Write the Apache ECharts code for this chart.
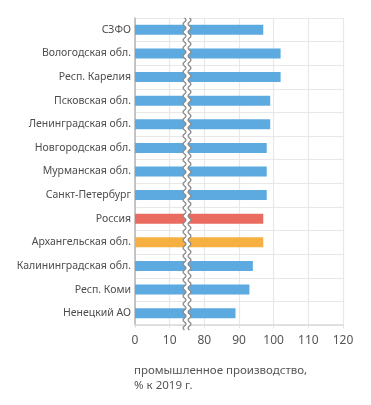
<!DOCTYPE html>
<html><head><meta charset="utf-8">
<script src="https://cdn.jsdelivr.net/npm/echarts@6/dist/echarts.min.js"></script>
<style>html,body{margin:0;padding:0;background:#fff}#c{width:371px;height:405px}</style>
</head><body><div id="c"></div>
<script>
const categories = ['СЗФО','Вологодская обл.','Респ. Карелия','Псковская обл.','Ленинградская обл.','Новгородская обл.','Мурманская обл.','Санкт-Петербург','Россия','Архангельская обл.','Калининградская обл.','Респ. Коми','Ненецкий АО'];
const values = [97, 102, 102, 99, 99, 98, 98, 98, 97, 97, 94, 93, 89];
const highlight = {'Россия':'#EA6B5F','Архангельская обл.':'#F6B042'};
const baseColor = '#5DAAE0';
const tickLabels = [0, 10, 80, 90, 100, 110, 120];
// axis break: values from 15 to 75 are cut out of the scale
const breakStart = 15, breakEnd = 75;
const cut = breakEnd - breakStart;
const toAxis = v => v <= breakStart ? v : v - cut;

(function () {
const font = 'Noto Sans, Open Sans, sans-serif';
const chart = echarts.init(document.getElementById('c'), null, {renderer:'canvas'});
chart.setOption({
  animation: false,
  title: {
    text: 'промышленное производство,\n% к 2019 г.',
    left: 129, top: 358,
    textStyle: {fontFamily: font, fontSize: 11.5, fontWeight: 'normal', color: '#555', lineHeight: 15}
  },
  grid: {left: 135, right: 28, top: 18, bottom: 80, containLabel: false},
  xAxis: {
    type: 'value', min: 0, max: toAxis(120), interval: 10,
    axisLine: {show: true, lineStyle: {color: '#d9d9d9', width: 1.5}},
    axisTick: {show: true, length: 3, lineStyle: {color: '#e3e3e3'}},
    splitLine: {show: true, lineStyle: {color: '#e8e8e8', width: 1.2}},
    axisLabel: {
      fontFamily: font, fontSize: 12, color: '#555', margin: 10,
      formatter: v => String(tickLabels[Math.round(v / 10)])
    }
  },
  yAxis: {
    type: 'category', data: categories, inverse: true,
    axisLine: {show: true, lineStyle: {color: '#b5b5b5', width: 1.5}},
    axisTick: {show: false},
    splitLine: {show: true, lineStyle: {color: '#e8e8e8', width: 1.2}},
    axisLabel: {fontFamily: font, fontSize: 10.5, color: '#4d4d4d', margin: 4}
  },
  series: [{
    type: 'bar', barWidth: 10,
    data: values.map((v, i) => ({value: toAxis(v), itemStyle: {color: highlight[categories[i]] || baseColor}}))
  }]
});

// break marker, positioned from the axis scale
const xc = chart.convertToPixel({xAxisIndex: 0}, breakStart);
const y0 = chart.convertToPixel({yAxisIndex: 0}, categories[0]);
const y1 = chart.convertToPixel({yAxisIndex: 0}, categories[1]);
const yN = chart.convertToPixel({yAxisIndex: 0}, categories[categories.length - 1]);
const band = y1 - y0;
const yTop = y0 - band / 2, yBot = yN + band / 2 + 5;
const leftPts = [], rightPts = [];
for (let y = yTop; y <= yBot; y += 0.5) {
  const dx = 1.4 * Math.sin((y - yTop) * 2 * Math.PI / 8);
  leftPts.push([xc - 2.5 + dx, y]);
  rightPts.push([xc + 2.5 + dx, y]);
}
chart.setOption({
  graphic: [
    {type: 'polygon', z: 100, shape: {points: leftPts.concat(rightPts.slice().reverse())}, style: {fill: '#fff', stroke: null}},
    {type: 'polyline', z: 101, shape: {points: leftPts}, style: {stroke: '#8a8a8a', lineWidth: 1.3, fill: null}},
    {type: 'polyline', z: 101, shape: {points: rightPts}, style: {stroke: '#8a8a8a', lineWidth: 1.3, fill: null}}
  ]
});
})();
</script></body></html>
